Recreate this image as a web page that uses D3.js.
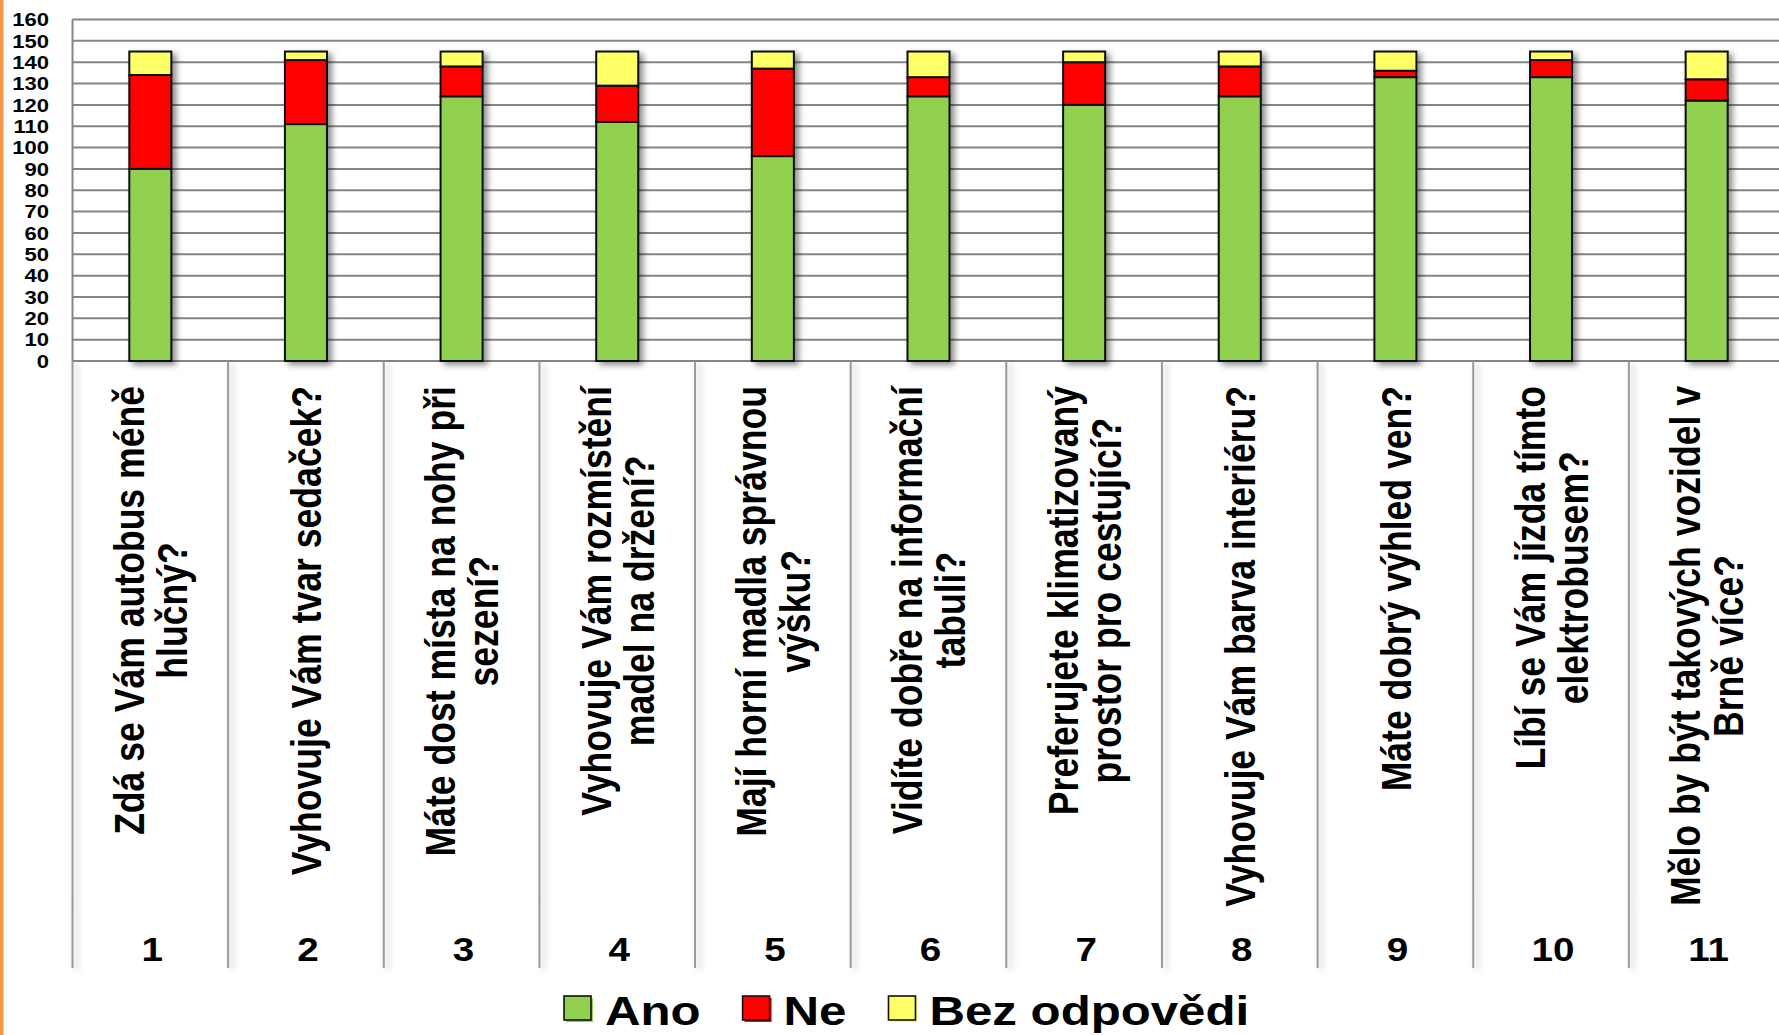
<!DOCTYPE html>
<html>
<head>
<meta charset="utf-8">
<script src="https://cdn.jsdelivr.net/npm/d3@7"></script>
<style>
  html, body { margin: 0; padding: 0; background: #fff; }
  svg { display: block; }
  text { font-family: "Liberation Sans", Arial, sans-serif; font-weight: bold; fill: #000; }
</style>
</head>
<body>
<svg id="chart" width="1779" height="1035"></svg>
<script>
// Survey answers per question (number of respondents)
const categories = ["1", "2", "3", "4", "5", "6", "7", "8", "9", "10", "11"];
const questions = [
  ["Zdá se Vám autobus méně", "hlučný?"],
  ["Vyhovuje Vám tvar sedaček?"],
  ["Máte dost místa na nohy při", "sezení?"],
  ["Vyhovuje Vám rozmístění", "madel na držení?"],
  ["Mají horní madla správnou", "výšku?"],
  ["Vidíte dobře na informační", "tabuli?"],
  ["Preferujete klimatizovaný", "prostor pro cestující?"],
  ["Vyhovuje Vám barva interiéru?"],
  ["Máte dobrý výhled ven?"],
  ["Líbí se Vám jízda tímto", "elektrobusem?"],
  ["Mělo by být takových vozidel v", "Brně více?"]
];
const ano = [90, 111, 124, 112, 96, 124, 120, 124, 133, 133, 122];
const ne  = [44, 30, 14, 17, 41, 9, 20, 14, 3, 8, 10];
const bez = [11, 4, 7, 16, 8, 12, 5, 7, 9, 4, 13];
const seriesNames = ["Ano", "Ne", "Bez odpovědi"];
const seriesColors = ["#92D050", "#FF0000", "#FFFF66"];
const yTicks = [0, 10, 20, 30, 40, 50, 60, 70, 80, 90, 100, 110, 120, 130, 140, 150, 160];

(function draw() {
  const svg = d3.select("#chart");
  const W = 1779, H = 1035;

  // layout (the plot area runs slightly past the right edge)
  const plotLeft = 72.5, plotRight = 1784.5, plotTop = 19.5, base = 361;
  const labelTop = 386, sepMid = 903, sepEnd = 968;
  const stretch = 1.19; // horizontal text stretch

  // drop shadow filters
  const defs = svg.append("defs");
  const f = defs.append("filter").attr("id", "shadow")
    .attr("x", "-30%").attr("y", "-10%").attr("width", "170%").attr("height", "130%");
  f.append("feDropShadow").attr("dx", 4).attr("dy", 3).attr("stdDeviation", 3)
    .attr("flood-color", "#000").attr("flood-opacity", 0.45);
  const f2 = defs.append("filter").attr("id", "lineShadow")
    .attr("filterUnits", "userSpaceOnUse")
    .attr("x", -20).attr("y", 300).attr("width", W + 40).attr("height", 720);
  f2.append("feDropShadow").attr("dx", 4).attr("dy", 2).attr("stdDeviation", 3)
    .attr("flood-color", "#000").attr("flood-opacity", 0.25);

  svg.append("rect").attr("width", W).attr("height", H).attr("fill", "#fff");
  // orange stripe on the left edge
  svg.append("rect").attr("x", 0).attr("y", 0).attr("width", 3.5).attr("height", H).attr("fill", "#F79646");

  const x = d3.scaleBand().domain(categories).range([plotLeft, plotRight])
    .paddingInner(0.73).paddingOuter(0.365);
  const y = d3.scaleLinear().domain([0, 160]).range([base, plotTop]);

  // horizontal gridlines
  svg.append("g").selectAll("line").data(yTicks).join("line")
    .attr("x1", plotLeft).attr("x2", W)
    .attr("y1", d => y(d)).attr("y2", d => y(d))
    .attr("stroke", "#858585").attr("stroke-width", 2);

  // left axis line
  svg.append("line").attr("x1", plotLeft).attr("x2", plotLeft).attr("y1", plotTop).attr("y2", base)
    .attr("stroke", "#858585").attr("stroke-width", 2);

  // y tick labels
  const yAxisG = svg.append("g");
  yTicks.forEach(t => {
    yAxisG.append("g")
      .attr("transform", `translate(49,${y(t)}) scale(1.19,1)`)
      .append("text").attr("text-anchor", "end").attr("dy", "0.36em")
      .style("font-size", "18.5px").text(t);
  });

  // category separators below the axis
  const step = x.step();
  const seps = d3.range(categories.length).map(i => plotLeft + i * step);
  const sepG = svg.append("g");
  seps.forEach(sx => {
    sepG.append("line").attr("x1", sx).attr("x2", sx).attr("y1", base).attr("y2", sepMid)
      .attr("stroke", "#999").attr("stroke-width", 2).attr("filter", "url(#lineShadow)");
    sepG.append("line").attr("x1", sx).attr("x2", sx).attr("y1", sepMid).attr("y2", sepEnd)
      .attr("stroke", "#999").attr("stroke-width", 2).attr("filter", "url(#lineShadow)");
  });

  // stacked bars
  const rows = categories.map((c, i) => ({ cat: c, Ano: ano[i], Ne: ne[i], "Bez odpovědi": bez[i] }));
  const stacked = d3.stack().keys(seriesNames)(rows);
  const barG = svg.append("g");
  categories.forEach((c, i) => {
    const g = barG.append("g").attr("filter", "url(#shadow)");
    stacked.forEach((s, k) => {
      const d = s[i];
      g.append("rect")
        .attr("x", x(c)).attr("width", x.bandwidth())
        .attr("y", y(d[1])).attr("height", y(d[0]) - y(d[1]))
        .attr("fill", seriesColors[k]).attr("stroke", "#111").attr("stroke-width", 2);
    });
  });

  // rotated question labels
  const qFont = 35.6, lineH = 36.3;
  const qG = svg.append("g");
  questions.forEach((lines, i) => {
    const cx = x(categories[i]) + x.bandwidth() / 2;
    const g = qG.append("g")
      .attr("transform", `translate(${cx},${labelTop}) scale(${stretch},1) rotate(-90)`);
    const texts = lines.map((ln, j) => g.append("text")
      .attr("text-anchor", "middle")
      .attr("y", (j - (lines.length - 1) / 2) * lineH + 0.358 * qFont)
      .style("font-size", qFont + "px").text(ln));
    const maxW = d3.max(texts, t => t.node().getComputedTextLength());
    texts.forEach(t => t.attr("x", -maxW / 2));
  });

  // category numbers
  const nG = svg.append("g");
  categories.forEach(c => {
    nG.append("g")
      .attr("transform", `translate(${x(c) + x.bandwidth() / 2 + 2},961) scale(1.17,1)`)
      .append("text").attr("text-anchor", "middle").style("font-size", "33px").text(c);
  });

  // legend
  const legG = svg.append("g");
  let lx = 564;
  seriesNames.forEach((name, k) => {
    legG.append("rect").attr("x", lx + 2).attr("y", 998).attr("width", 27).attr("height", 24)
      .attr("fill", seriesColors[k]);
    legG.append("rect").attr("x", lx).attr("y", 996).attr("width", 27).attr("height", 24)
      .attr("fill", seriesColors[k]).attr("stroke", "#111").attr("stroke-width", 1.6);
    const tg = legG.append("g").attr("transform", `translate(${lx + 41},1025) scale(1.2,1)`);
    const t = tg.append("text").style("font-size", "41px").text(name);
    const w = t.node().getComputedTextLength() * 1.2;
    lx += 41 + w + 42;
  });
})();
</script>
</body>
</html>
